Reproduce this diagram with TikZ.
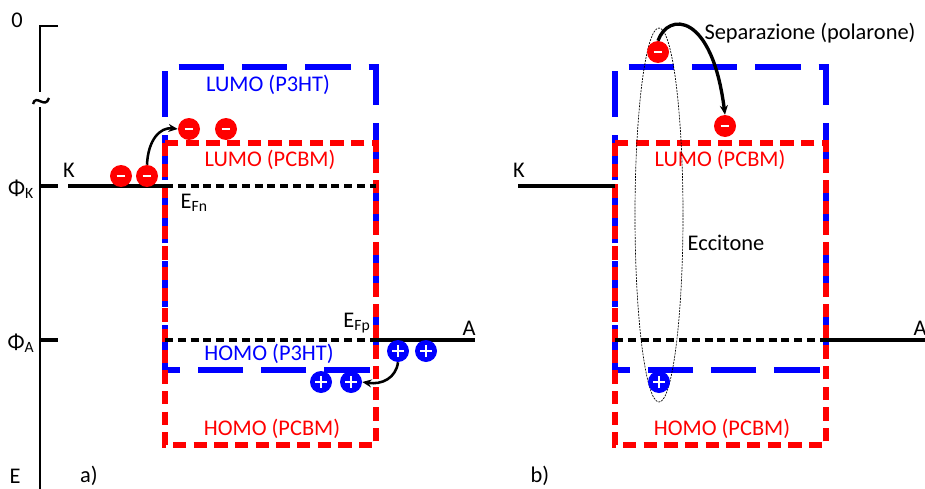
\documentclass[tikz,border=0pt]{standalone}
\usepackage{fontspec}
\setmainfont{Carlito}
\usetikzlibrary{arrows.meta}
\newcommand{\EFn}{E\textsubscript{Fn}}
\newcommand{\EFp}{E\textsubscript{Fp}}

\begin{document}
\begin{tikzpicture}[x=0.75pt,y=-0.75pt,
    font=\fontsize{16.8}{19}\selectfont,
    bluebox/.style={blue,line width=3.8pt,dash pattern=on 34pt off 13.5pt},
    redbox/.style={red,line width=3.8pt,dash pattern=on 10pt off 5.5pt},
    level/.style={black,line width=2.5pt},
    levdash/.style={black,line width=2.3pt,dash pattern=on 6pt off 3.6pt},
    electron/.style={circle,fill=red,inner sep=0pt,minimum size=16.5pt,
      path picture={\draw[white,line width=2.2pt]
        ([xshift=-3.2pt]path picture bounding box.center) --
        ([xshift=3.2pt]path picture bounding box.center);}},
    hole/.style={circle,fill=blue,inner sep=0pt,minimum size=16.5pt,
      path picture={\draw[white,line width=1.9pt]
        ([xshift=-4.5pt]path picture bounding box.center) --
        ([xshift=4.5pt]path picture bounding box.center)
        ([yshift=-4.5pt]path picture bounding box.center) --
        ([yshift=4.5pt]path picture bounding box.center);}},
    jump/.style={-{Stealth[length=7pt,width=6pt]},line width=1.9pt}]
  \useasboundingbox (0,0) rectangle (925,489);

  % energy axis
  \draw[line width=2.2pt] (58,26) -- (40,26) -- (40,92);
  \draw[line width=2.2pt] (40,107) -- (40,489);
  \draw[line width=1.8pt] (33,104) .. controls (36,93) and (45,110) .. (49,98);
  \draw[line width=2.6pt] (40,186) -- (58,186);
  \draw[line width=2.6pt] (40,340) -- (58,340);
  \node at (17,20) {0};
  \node at (21,189) {Φ\textsubscript{K}};
  \node at (21,343) {Φ\textsubscript{A}};
  \node at (15,476) {E};

  % both panels: P3HT and PCBM levels
  \foreach \ox in {0,450} {
    \draw[bluebox] (165+\ox,370) -- (165+\ox,67) -- (376+\ox,67) -- (376+\ox,370) -- cycle;
    \draw[redbox] (165+\ox,143) rectangle (376+\ox,445);
    \draw[levdash] (165+\ox,340) -- (376+\ox,340);
    \draw[level] (376+\ox,340) -- (475+\ox,340);
    \draw[level] (68+\ox,186) -- (165+\ox,186);
    \node[red] at (270+\ox,160) {LUMO (PCBM)};
    \node[red] at (272+\ox,429) {HOMO (PCBM)};
  }

  % panel a)
  \draw[levdash] (165,186) -- (376,186);
  \node[blue] at (268,85) {LUMO (P3HT)};
  \node[blue] at (269,354) {HOMO (P3HT)};
  \node at (69,170) {K};
  \node at (469,328) {A};
  \node[anchor=west] at (176,203) {\EFn};
  \node at (357,323) {\EFp};
  \node at (89,476) {a)};

  \node[electron] (e1) at (121,176) {};
  \node[electron] (e2) at (147,176) {};
  \node[electron] (e3) at (189,129) {};
  \node[electron] (e4) at (226,129) {};
  \node[hole] (h1) at (398,351) {};
  \node[hole] (h2) at (426,351) {};
  \node[hole] (h3) at (321,382) {};
  \node[hole] (h4) at (351,382) {};
  \draw[jump] (e2.north) .. controls (148,140) and (160,127) .. (e3.west);
  \draw[jump] (h1.south) .. controls (396,378) and (382,385) .. (h4.east);

  % panel b)
  \node at (519,170) {K};
  \node at (920,328) {A};
  \node at (540,476) {b)};
  \draw[line width=0.5pt,dash pattern=on 1.5pt off 0.8pt] (659,215) ellipse (24 and 187);
  \node[electron] (eb1) at (658,52) {};
  \node[electron] (eb2) at (725,126) {};
  \node[hole] (hb1) at (659,382) {};
  \draw[jump,line width=2.5pt] (eb1.north) .. controls (668,12) and (712,12) .. (eb2.north);
  \node at (810,33) {Separazione (polarone)};
  \node at (726,243) {Eccitone};
\end{tikzpicture}
\end{document}
